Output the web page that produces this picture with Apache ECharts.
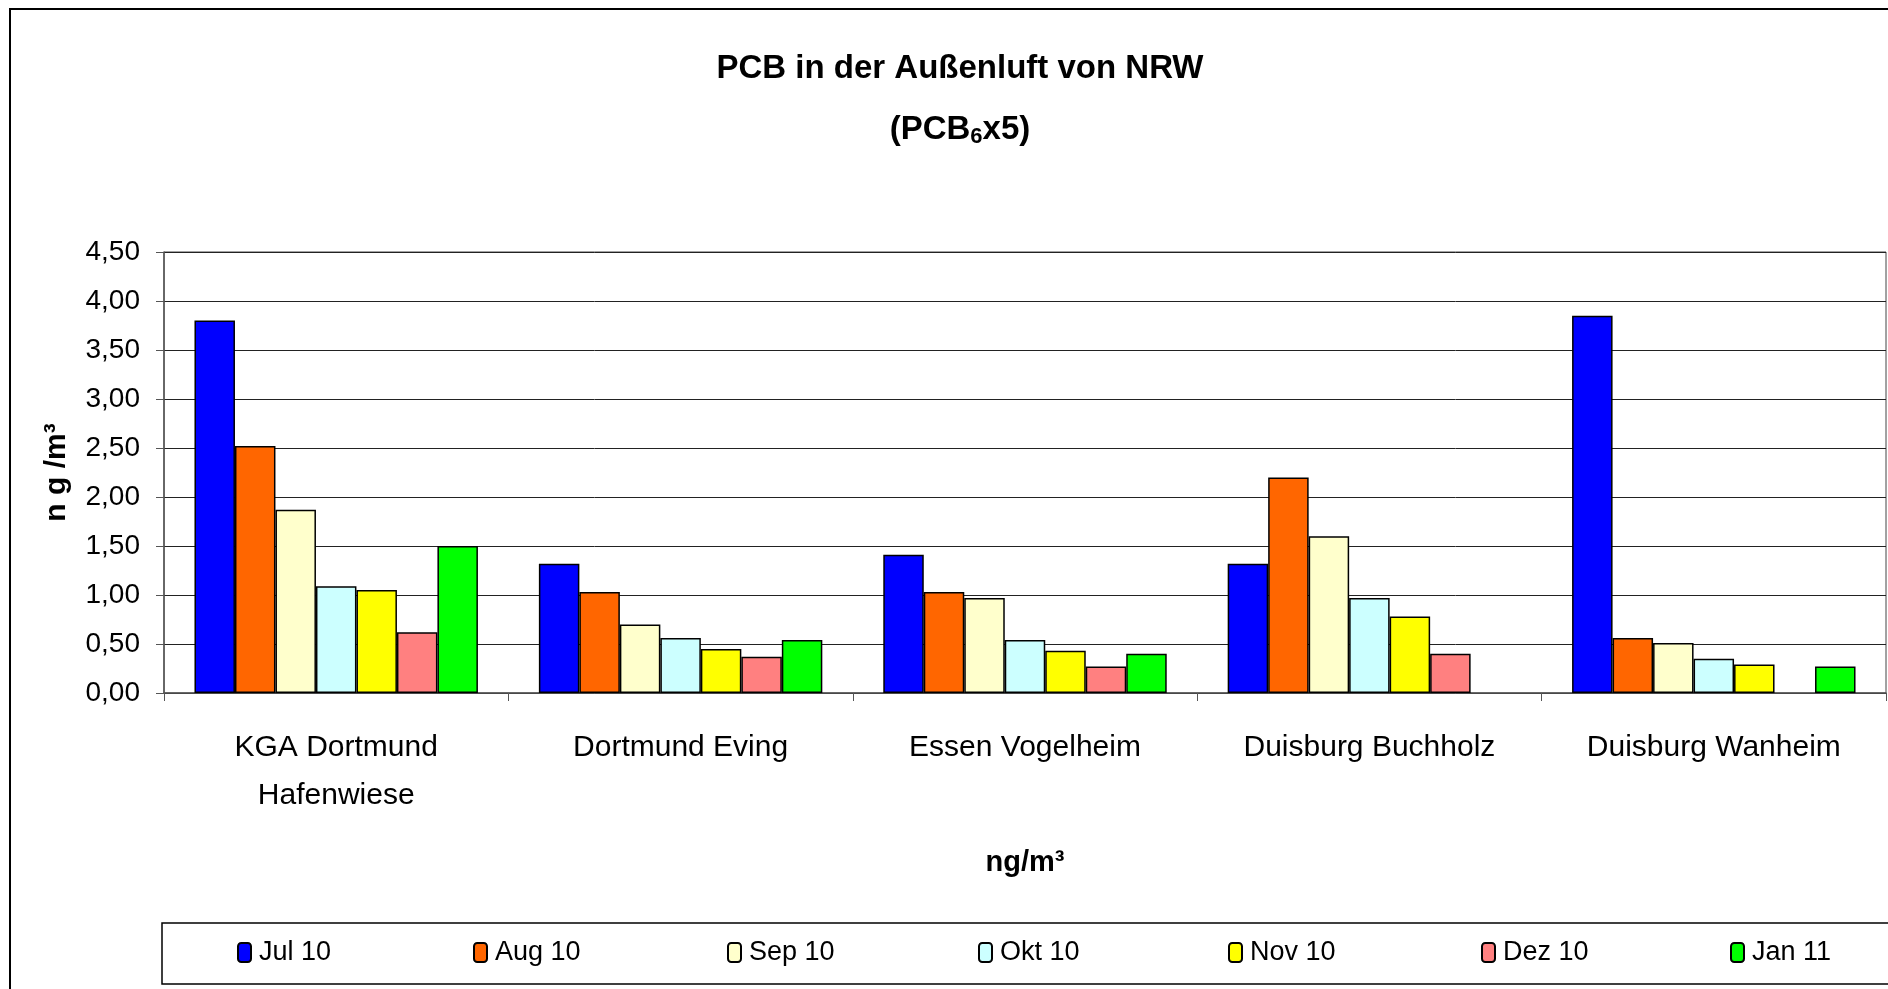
<!DOCTYPE html>
<html>
<head>
<meta charset="utf-8">
<title>PCB in der Außenluft von NRW</title>
<script src="https://cdn.jsdelivr.net/npm/echarts@6/dist/echarts.min.js"></script>
<style>
  html, body { margin: 0; padding: 0; background: #fff; }
  #chart { width: 1888px; height: 989px; }
</style>
</head>
<body>
<div id="chart"></div>
<script>
// Messstellen (x-Achse)
const stations = [
  "KGA Dortmund\nHafenwiese",
  "Dortmund Eving",
  "Essen Vogelheim",
  "Duisburg Buchholz",
  "Duisburg Wanheim"
];

// Monate (Legende)
const months = ["Jul 10", "Aug 10", "Sep 10", "Okt 10", "Nov 10", "Dez 10", "Jan 11"];
const monthColors = ["#0000FF", "#FF6600", "#FFFFCC", "#CCFFFF", "#FFFF00", "#FF8080", "#00FF00"];

// Werte in ng/m³, je Monat eine Liste über die Messstellen
const jul10 = [3.80, 1.32, 1.41, 1.32, 3.85];
const aug10 = [2.52, 1.03, 1.03, 2.20, 0.56];
const sep10 = [1.87, 0.70, 0.97, 1.60, 0.51];
const okt10 = [1.09, 0.56, 0.54, 0.97, 0.35];
const nov10 = [1.05, 0.45, 0.43, 0.78, 0.29];
const dez10 = [0.62, 0.37, 0.27, 0.40, null];
const jan11 = [1.50, 0.54, 0.40, null, 0.27];

const monthValues = [jul10, aug10, sep10, okt10, nov10, dez10, jan11];

// x-Position jedes Legendeneintrags (wie im Original gleichmäßig verteilt)
const legendLeft = [237, 473, 727, 978, 1228, 1481, 1730];

const chart = echarts.init(document.getElementById("chart"));

const font = "'Liberation Sans', Arial, sans-serif";

const option = {
  animation: false,
  backgroundColor: "#fff",
  title: {
    text: "PCB in der Außenluft von NRW",
    subtext: "(PCB{sub|6}x5)",
    left: 960,
    top: 52,
    textAlign: "center",
    padding: 0,
    itemGap: 27,
    textStyle: {
      fontFamily: font,
      fontWeight: "bold",
      fontSize: 33,
      color: "#000"
    },
    subtextStyle: {
      fontFamily: font,
      fontWeight: "bold",
      fontSize: 33,
      color: "#000",
      rich: {
        sub: {
          fontFamily: font,
          fontWeight: "bold",
          fontSize: 22,
          color: "#000",
          padding: [14, 0, 0, 0]
        }
      }
    }
  },
  graphic: [
    {
      // Rahmen des Diagrammbereichs
      type: "rect",
      z: -1,
      shape: { x: 10, y: 9, width: 2000, height: 2000 },
      style: { fill: "none", stroke: "#000", lineWidth: 2 }
    },
    {
      // Rahmen der Legende
      type: "rect",
      z: -1,
      shape: { x: 162, y: 923, width: 1800, height: 61 },
      style: { fill: "none", stroke: "#000", lineWidth: 1.5 }
    }
  ],
  legend: months.map((m, i) => ({
    data: [m],
    left: legendLeft[i],
    top: 939,
    padding: 0,
    itemWidth: 13,
    itemHeight: 19,
    textStyle: {
      fontFamily: font,
      fontSize: 27,
      color: "#000",
      padding: [0, 0, 0, 3]
    }
  })),
  grid: {
    left: 164,
    right: 2,
    top: 252,
    bottom: 296,
    show: true,
    borderColor: "#444",
    borderWidth: 1
  },
  xAxis: {
    type: "category",
    data: stations,
    name: "ng/m³",
    nameLocation: "middle",
    nameGap: 155,
    nameTextStyle: {
      fontFamily: font,
      fontWeight: "bold",
      fontSize: 29,
      color: "#000"
    },
    axisLine: { lineStyle: { color: "#555", width: 1.5 } },
    axisTick: { show: true, length: 8, lineStyle: { color: "#555" } },
    axisLabel: {
      fontFamily: font,
      fontSize: 30,
      color: "#000",
      margin: 31,
      lineHeight: 48,
      interval: 0
    }
  },
  yAxis: {
    type: "value",
    min: 0,
    max: 4.5,
    interval: 0.5,
    name: "n g /m³",
    nameLocation: "middle",
    nameGap: 92,
    nameTextStyle: {
      fontFamily: font,
      fontWeight: "bold",
      fontSize: 30,
      color: "#000"
    },
    axisLine: { show: true, lineStyle: { color: "#555", width: 1.5 } },
    axisTick: { show: true, length: 8, lineStyle: { color: "#555" } },
    axisLabel: {
      fontFamily: font,
      fontSize: 28,
      color: "#000",
      margin: 24,
      formatter: v => v.toFixed(2).replace(".", ",")
    },
    splitLine: { lineStyle: { color: "#222", width: 1 } }
  },
  series: months.map((m, i) => ({
    name: m,
    type: "bar",
    data: monthValues[i],
    barGap: "0%",
    barCategoryGap: "17.7%",
    itemStyle: {
      color: monthColors[i],
      borderColor: "#000",
      borderWidth: 1.5
    }
  }))
};

chart.setOption(option);

window.addEventListener("resize", () => {
  chart.resize();
});
</script>
</body>
</html>
